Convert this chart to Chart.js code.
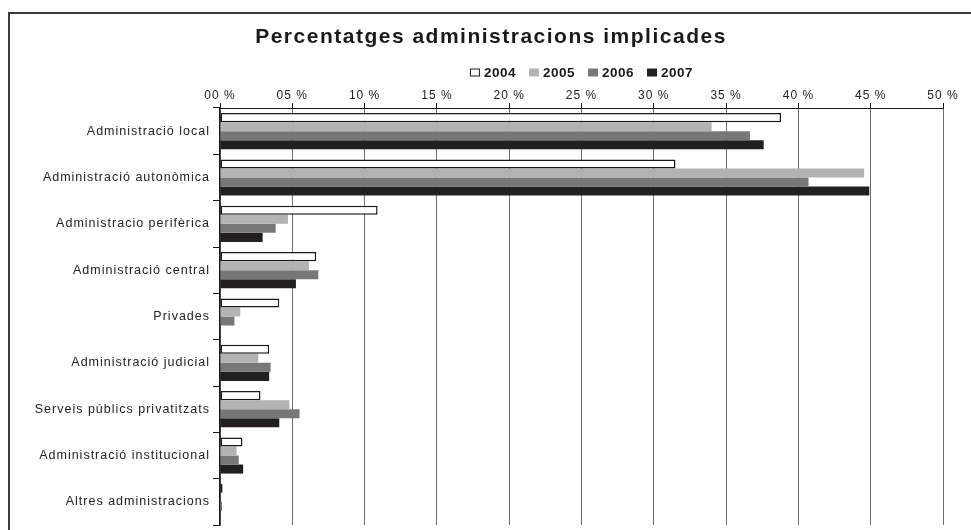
<!DOCTYPE html>
<html>
<head>
<meta charset="utf-8">
<script src="https://cdn.jsdelivr.net/npm/chart.js@4"></script>
<style>
  html, body { margin: 0; padding: 0; background: #fff; }
  #wrap { position: relative; width: 971px; height: 530px; }
  #frame { position: absolute; left: 8px; top: 12px; right: 0; bottom: 0;
           border-top: 2px solid #3c3c3c; border-left: 2px solid #3c3c3c; }
  canvas { position: absolute; left: 0; top: 0; }
</style>
</head>
<body>
<div id="wrap">
  <div id="frame"></div>
  <canvas id="chart" width="971" height="530"></canvas>
</div>
<script>
const titleText = "Percentatges administracions implicades";

const categories = [
  "Administració local",
  "Administració autonòmica",
  "Administracio perifèrica",
  "Administració central",
  "Privades",
  "Administració judicial",
  "Serveis públics privatitzats",
  "Administració institucional",
  "Altres administracions"
];

const years = ["2004", "2005", "2006", "2007"];

const values2004 = [38.8, 31.5, 10.9, 6.65, 4.1, 3.4, 2.8, 1.55, 0.18];
const values2005 = [34.0, 44.55, 4.7, 6.15, 1.4, 2.65, 4.8, 1.15, 0];
const values2006 = [36.65, 40.7, 3.85, 6.8, 1.0, 3.5, 5.5, 1.3, 0.14];
const values2007 = [37.6, 44.9, 2.95, 5.25, 0, 3.4, 4.1, 1.6, 0];

const fill = ["#ffffff", "#b3b3b5", "#77777a", "#231f20"];

// title, legend above the plot, and letter spacing like the print
const decor = {
  id: "decor",
  beforeDraw(chart) {
    chart.ctx.letterSpacing = "1px";
  },
  afterDraw(chart) {
    const ctx = chart.ctx;
    ctx.save();
    ctx.fillStyle = "#1a1a1a";
    ctx.textBaseline = "middle";
    ctx.textAlign = "center";
    ctx.font = "bold 21px 'Liberation Sans', Arial, sans-serif";
    ctx.letterSpacing = "1.5px";
    ctx.fillText(titleText, 491, 37);

    ctx.font = "bold 13.5px 'Liberation Sans', Arial, sans-serif";
    ctx.letterSpacing = "0.5px";
    ctx.textAlign = "left";
    const items = chart.data.datasets.map(ds => ({
      label: ds.label,
      color: ds.backgroundColor,
      w: 14 + ctx.measureText(ds.label).width
    }));
    const gap = 13;
    const total = items.reduce((s, it) => s + it.w, 0) + gap * (items.length - 1);
    let x = (chart.chartArea.left + chart.chartArea.right) / 2 - total / 2;
    const y = 72.5;
    items.forEach(it => {
      ctx.fillStyle = it.color;
      ctx.fillRect(x, y - 4, 10, 8);
      if (it.color === "#ffffff") {
        ctx.strokeStyle = "#1a1a1a";
        ctx.lineWidth = 1;
        ctx.strokeRect(x + 0.5, y - 3.5, 9, 7);
      }
      ctx.fillStyle = "#1a1a1a";
      ctx.fillText(it.label, x + 14, y + 0.5);
      x += it.w + gap;
    });
    ctx.restore();
  }
};

const seriesValues = [values2004, values2005, values2006, values2007];

new Chart(document.getElementById("chart"), {
  type: "bar",
  data: {
    labels: categories,
    datasets: years.map((yr, i) => ({
      label: yr,
      data: seriesValues[i],
      backgroundColor: fill[i],
      borderColor: i === 0 ? "#1a1a1a" : "#ffffff",
      borderWidth: i === 0 ? 1.5 : 0,
      borderSkipped: i === 0 ? false : "start",
      categoryPercentage: 0.78,
      barPercentage: 1.0
    }))
  },
  options: {
    indexAxis: "y",
    responsive: false,
    animation: false,
    layout: { padding: { left: 10, right: 28, top: 80, bottom: 5 } },
    plugins: {
      legend: { display: false },
      title: { display: false },
      tooltip: { enabled: false }
    },
    scales: {
      x: {
        position: "top",
        min: 0,
        max: 50,
        afterFit(scale) { scale.height = 28; },
        border: { display: true, color: "#1a1a1a", width: 1 },
        grid: { color: "#6e6e6e", lineWidth: 1, tickLength: 5, tickColor: "#1a1a1a" },
        ticks: {
          stepSize: 5,
          padding: 0,
          color: "#222",
          font: { family: "'Liberation Sans', Arial, sans-serif", size: 12 },
          callback: v => String(v).padStart(2, "0") + " %"
        }
      },
      y: {
        afterFit(scale) {
          scale.width = 210;
          scale.paddingTop = 0;
          scale.paddingBottom = 0;
        },
        border: { display: true, color: "#1a1a1a", width: 1.5 },
        grid: { drawOnChartArea: false, tickLength: 7, color: "#1a1a1a", offset: true },
        ticks: {
          padding: 3,
          color: "#222",
          font: { family: "'Liberation Sans', Arial, sans-serif", size: 12.5 }
        }
      }
    }
  },
  plugins: [decor]
});
</script>
</body>
</html>
